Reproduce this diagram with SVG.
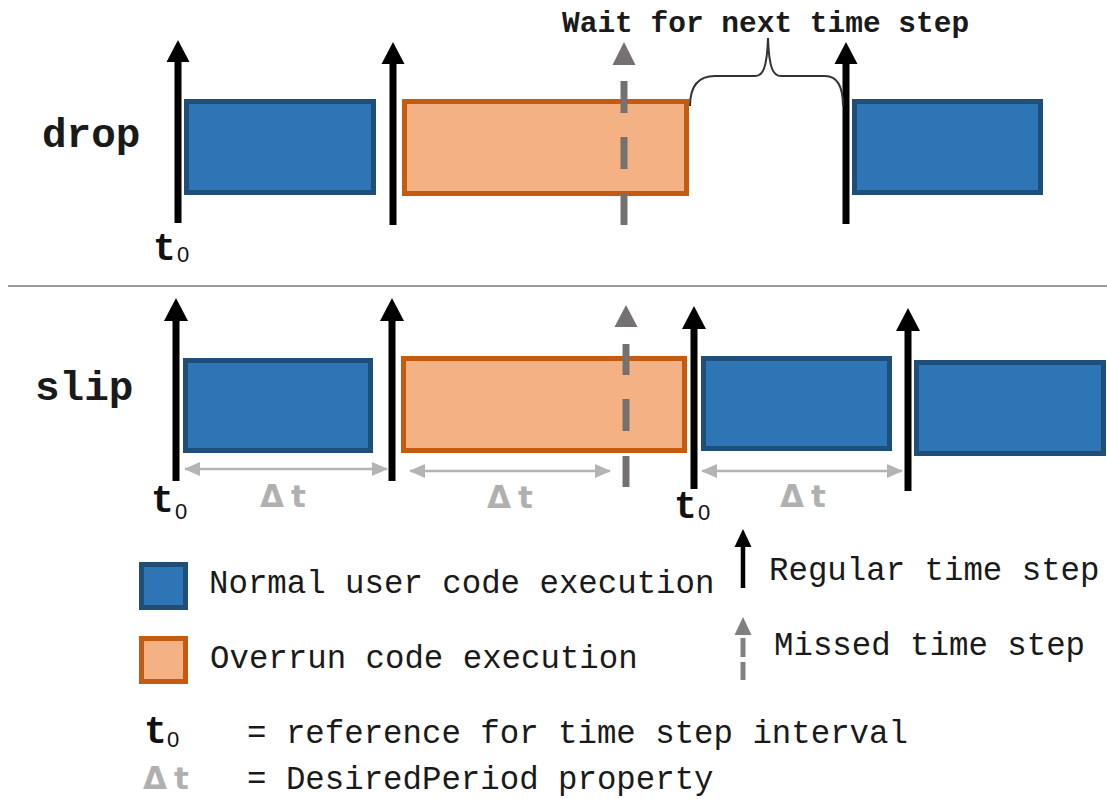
<svg xmlns="http://www.w3.org/2000/svg" width="1107" height="799" viewBox="0 0 1107 799">
<style>
.blue{fill:#2e75b6;stroke:#1f4e79;stroke-width:5}
.orange{fill:#f4b183;stroke:#c55a11;stroke-width:5}
.shaft{stroke:#000;stroke-width:7}
.head{fill:#000}
.mshaft{stroke:#767171;stroke-width:7}
.mhead{fill:#767171}
.dt{stroke:#b4b4b4;stroke-width:2.5;fill:none}
.mono{font-family:"Liberation Mono","Courier New",monospace;fill:#1a1a1a}
.lbl{font-size:32.4px}
.title{font-size:41px;font-weight:bold}
.tb{font-family:"Liberation Mono",monospace;font-weight:bold;font-size:38px;fill:#111}
.sub{font-family:"Liberation Sans",Arial,sans-serif;font-size:22px;fill:#111}
.dtt{font-family:"DejaVu Sans",sans-serif;font-size:31px;font-weight:bold;fill:#b0b0b0;letter-spacing:7px}
</style>
<defs>
<marker id="dtArrow" viewBox="0 0 16 14" refX="15" refY="7" markerWidth="16" markerHeight="14" markerUnits="userSpaceOnUse" orient="auto-start-reverse">
<path d="M0,0 L16,7 L0,14 Z" fill="#b4b4b4"/>
</marker>
</defs>

<line x1="8" y1="286" x2="1107" y2="286" stroke="#999" stroke-width="2"/>

<g id="labels">
<text class="mono title" x="42" y="147">drop</text>
<text class="mono title" x="35" y="400">slip</text>
<text class="mono" x="562" y="32" font-size="29.5" font-weight="bold">Wait for next time step</text>
</g>

<g id="drop-row">
<g id="drop-b1"><rect class="blue" x="186.5" y="101.5" width="187" height="91"/></g>
<g id="drop-o1"><rect class="orange" x="404.5" y="101.5" width="282" height="92"/></g>
<g id="drop-b2"><rect class="blue" x="854.5" y="101.5" width="186" height="91"/></g>
</g>

<g id="slip-row">
<g id="slip-b1"><rect class="blue" x="185.5" y="360.5" width="185" height="90"/></g>
<g id="slip-o1"><rect class="orange" x="403.5" y="358.5" width="281" height="92"/></g>
<g id="slip-b2"><rect class="blue" x="703.5" y="358.5" width="186" height="90"/></g>
<g id="slip-b3"><rect class="blue" x="916.5" y="362.5" width="187" height="91"/></g>
</g>

<g id="connectors">
<line class="shaft" x1="178" y1="60" x2="178" y2="223"/><polygon class="head" points="178,40 166.5,62 189.5,62"/>
<line class="shaft" x1="393" y1="62" x2="393" y2="225"/><polygon class="head" points="393,42 381.5,64 404.5,64"/>
<line class="shaft" x1="846" y1="62" x2="846" y2="224"/><polygon class="head" points="846,42 834.5,64 857.5,64"/>
<polygon class="mhead" points="624,42 612.5,65 635.5,65"/>
<line class="mshaft" x1="624" y1="81" x2="624" y2="113"/>
<line class="mshaft" x1="624" y1="137" x2="624" y2="169"/>
<line class="mshaft" x1="624" y1="193" x2="624" y2="225"/>
<path d="M690,106 C690,86 698,76 715,76 L755,76 C763,76 767,68 768,38 C769,68 773,76 781,76 L825,76 C837,76 843,86 843,106" fill="none" stroke="#333" stroke-width="2"/>
<line class="shaft" x1="176" y1="318" x2="176" y2="481"/><polygon class="head" points="176,298 164,321 188,321"/>
<line class="shaft" x1="392" y1="318" x2="392" y2="481"/><polygon class="head" points="392,298 380,321 404,321"/>
<line class="shaft" x1="694" y1="326" x2="694" y2="489"/><polygon class="head" points="694,306 682,329 706,329"/>
<line class="shaft" x1="908" y1="328" x2="908" y2="491"/><polygon class="head" points="908,308 896,331 920,331"/>
<polygon class="mhead" points="626,305 614.5,327 637.5,327"/>
<line class="mshaft" x1="626" y1="344" x2="626" y2="375"/>
<line class="mshaft" x1="626" y1="399" x2="626" y2="431"/>
<line class="mshaft" x1="626" y1="456" x2="626" y2="487"/>
<line class="dt" x1="185" y1="469" x2="387" y2="469" marker-start="url(#dtArrow)" marker-end="url(#dtArrow)"/>
<line class="dt" x1="410" y1="471" x2="610" y2="471" marker-start="url(#dtArrow)" marker-end="url(#dtArrow)"/>
<line class="dt" x1="702" y1="471" x2="902" y2="471" marker-start="url(#dtArrow)" marker-end="url(#dtArrow)"/>
</g>

<g id="time-labels">
<text class="tb" x="153" y="260">t</text><text class="sub" x="177" y="262">0</text>
<text class="tb" x="151" y="512">t</text><text class="sub" x="175" y="519">0</text>
<text class="tb" x="674" y="518">t</text><text class="sub" x="698" y="520">0</text>
<text class="dtt" x="260" y="507">Δt</text>
<text class="dtt" x="487" y="508">Δt</text>
<text class="dtt" x="780" y="507">Δt</text>
</g>

<g id="legend">
<g id="legend-normal">
<rect class="blue" x="141.5" y="564.5" width="44" height="43"/>
<text class="mono lbl" x="209" y="593">Normal user code execution</text>
</g>
<g id="legend-overrun">
<rect class="orange" x="141.5" y="638.5" width="44" height="43"/>
<text class="mono lbl" x="210" y="668">Overrun code execution</text>
</g>
<g id="legend-regular">
<line x1="743" y1="545" x2="743" y2="588" stroke="#000" stroke-width="4.5"/>
<polygon points="743,529 734.5,547 751.5,547" fill="#000"/>
<text class="mono lbl" x="769" y="580">Regular time step</text>
</g>
<g id="legend-missed">
<polygon points="743,617 734.5,635 751.5,635" fill="#808080"/>
<line x1="743" y1="638" x2="743" y2="657" stroke="#808080" stroke-width="5"/>
<line x1="743" y1="662" x2="743" y2="680" stroke="#808080" stroke-width="5"/>
<text class="mono lbl" x="774" y="655">Missed time step</text>
</g>
<g id="legend-t0">
<text class="tb" x="144" y="743">t</text><text class="sub" x="167" y="747">0</text>
<text class="mono lbl" x="247" y="743">= reference for time step interval</text>
</g>
<g id="legend-dt">
<text class="dtt" x="143" y="789">Δt</text>
<text class="mono lbl" x="247" y="789">= DesiredPeriod property</text>
</g>
</g>
</svg>
